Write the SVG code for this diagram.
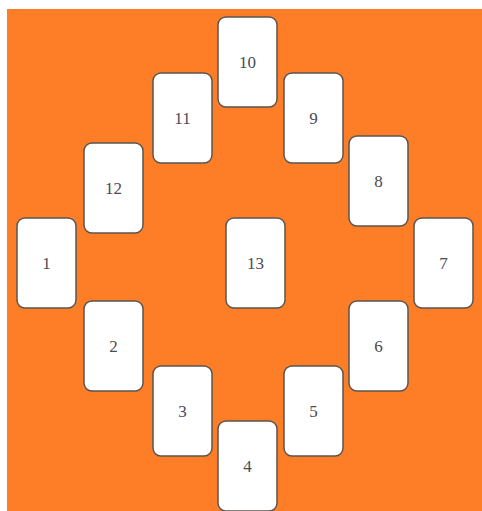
<svg xmlns="http://www.w3.org/2000/svg" width="482" height="511" viewBox="0 0 482 511">
<style>
.card rect{fill:#ffffff;stroke:#5a5550;stroke-width:1.5}
.card text{font-family:"Liberation Serif",serif;font-size:17px;fill:#4a4a55;text-anchor:middle;dominant-baseline:central}
</style>
<rect x="0" y="0" width="482" height="511" fill="#ffffff"/>
<rect x="7" y="9" width="475" height="502" fill="#fd7e26"/>
<g id="card1" class="card"><rect x="17" y="218" width="59" height="90" rx="8"/><text x="46.5" y="263">1</text></g>
<g id="card2" class="card"><rect x="84" y="301" width="59" height="90" rx="8"/><text x="113.5" y="346">2</text></g>
<g id="card3" class="card"><rect x="153" y="366" width="59" height="90" rx="8"/><text x="182.5" y="411">3</text></g>
<g id="card4" class="card"><rect x="218" y="421" width="59" height="90" rx="8"/><text x="247.5" y="466">4</text></g>
<g id="card5" class="card"><rect x="284" y="366" width="59" height="90" rx="8"/><text x="313.5" y="411">5</text></g>
<g id="card6" class="card"><rect x="349" y="301" width="59" height="90" rx="8"/><text x="378.5" y="346">6</text></g>
<g id="card7" class="card"><rect x="414" y="218" width="59" height="90" rx="8"/><text x="443.5" y="263">7</text></g>
<g id="card8" class="card"><rect x="349" y="136" width="59" height="90" rx="8"/><text x="378.5" y="181">8</text></g>
<g id="card9" class="card"><rect x="284" y="73" width="59" height="90" rx="8"/><text x="313.5" y="118">9</text></g>
<g id="card10" class="card"><rect x="218" y="17" width="59" height="90" rx="8"/><text x="247.5" y="62">10</text></g>
<g id="card11" class="card"><rect x="153" y="73" width="59" height="90" rx="8"/><text x="182.5" y="118">11</text></g>
<g id="card12" class="card"><rect x="84" y="143" width="59" height="90" rx="8"/><text x="113.5" y="188">12</text></g>
<g id="card13" class="card"><rect x="226" y="218" width="59" height="90" rx="8"/><text x="255.5" y="263">13</text></g>
<g id="connectors"/>
</svg>
